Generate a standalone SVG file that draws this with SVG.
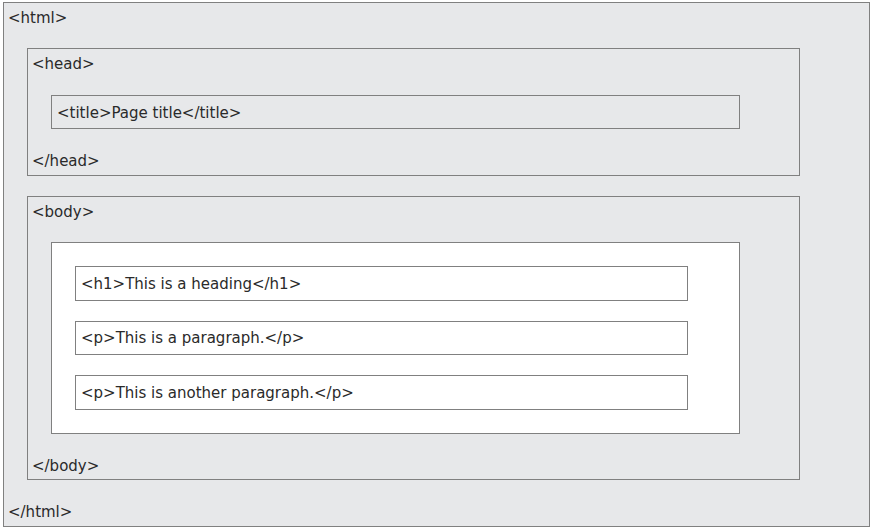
<svg xmlns="http://www.w3.org/2000/svg" width="873" height="530" viewBox="0 0 873 530">
<style>
.g{fill:#e7e8ea;stroke:#808080;stroke-width:1}
.w{fill:#ffffff;stroke:#808080;stroke-width:1}
text{font-family:"DejaVu Sans",Verdana,sans-serif;font-size:15px;fill:#2a2a2a}
</style>
<rect width="873" height="530" fill="#ffffff"/>
<g id="html">
<rect class="g" x="3.5" y="2.5" width="866" height="524"/>
<text x="8" y="23">&lt;html&gt;</text>
<text x="8" y="517">&lt;/html&gt;</text>
</g>
<g id="head">
<rect class="g" x="27.5" y="48.5" width="772" height="127"/>
<text x="32" y="69">&lt;head&gt;</text>
<text x="32" y="166">&lt;/head&gt;</text>
</g>
<g id="title">
<rect class="g" x="51.5" y="95.5" width="688" height="33"/>
<text x="57" y="118">&lt;title&gt;Page title&lt;/title&gt;</text>
</g>
<g id="body">
<rect class="g" x="27.5" y="196.5" width="772" height="283"/>
<text x="32" y="217">&lt;body&gt;</text>
<text x="32" y="471">&lt;/body&gt;</text>
</g>
<g id="content">
<rect class="w" x="51.5" y="242.5" width="688" height="191"/>
</g>
<g id="h1">
<rect class="w" x="75.5" y="266.5" width="612" height="34"/>
<text x="81" y="289">&lt;h1&gt;This is a heading&lt;/h1&gt;</text>
</g>
<g id="p1">
<rect class="w" x="75.5" y="321.5" width="612" height="33"/>
<text x="81" y="343">&lt;p&gt;This is a paragraph.&lt;/p&gt;</text>
</g>
<g id="p2">
<rect class="w" x="75.5" y="375.5" width="612" height="34"/>
<text x="81" y="398">&lt;p&gt;This is another paragraph.&lt;/p&gt;</text>
</g>
<g id="connectors"/>
</svg>
